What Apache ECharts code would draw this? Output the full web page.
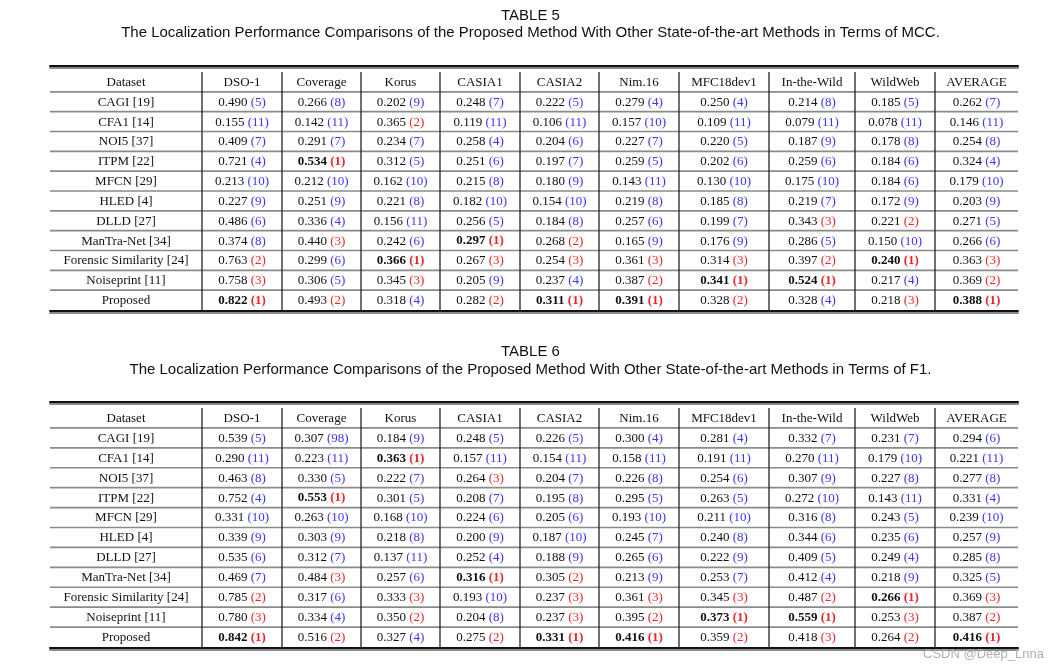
<!DOCTYPE html>
<html>
<head>
<meta charset="utf-8">
<title>MCC / F1 tables</title>
<script src="https://cdn.jsdelivr.net/npm/echarts@6/dist/echarts.min.js"></script>
<style>
  html, body { margin: 0; padding: 0; background: #fff; }
  #main { width: 1061px; height: 668px; }
</style>
</head>
<body>
<div id="main"></div>
<script>
// ---- data ----
const datasets = ['DSO-1', 'Coverage', 'Korus', 'CASIA1', 'CASIA2', 'Nim.16', 'MFC18dev1', 'In-the-Wild', 'WildWeb', 'AVERAGE'];
const methods = ['CAGI [19]', 'CFA1 [14]', 'NOI5 [37]', 'ITPM [22]', 'MFCN [29]', 'HLED [4]', 'DLLD [27]',
  'ManTra-Net [34]', 'Forensic Similarity [24]', 'Noiseprint [11]', 'Proposed'];

const mccValues = [
  [0.490, 0.266, 0.202, 0.248, 0.222, 0.279, 0.250, 0.214, 0.185, 0.262],
  [0.155, 0.142, 0.365, 0.119, 0.106, 0.157, 0.109, 0.079, 0.078, 0.146],
  [0.409, 0.291, 0.234, 0.258, 0.204, 0.227, 0.220, 0.187, 0.178, 0.254],
  [0.721, 0.534, 0.312, 0.251, 0.197, 0.259, 0.202, 0.259, 0.184, 0.324],
  [0.213, 0.212, 0.162, 0.215, 0.180, 0.143, 0.130, 0.175, 0.184, 0.179],
  [0.227, 0.251, 0.221, 0.182, 0.154, 0.219, 0.185, 0.219, 0.172, 0.203],
  [0.486, 0.336, 0.156, 0.256, 0.184, 0.257, 0.199, 0.343, 0.221, 0.271],
  [0.374, 0.440, 0.242, 0.297, 0.268, 0.165, 0.176, 0.286, 0.150, 0.266],
  [0.763, 0.299, 0.366, 0.267, 0.254, 0.361, 0.314, 0.397, 0.240, 0.363],
  [0.758, 0.306, 0.345, 0.205, 0.237, 0.387, 0.341, 0.524, 0.217, 0.369],
  [0.822, 0.493, 0.318, 0.282, 0.311, 0.391, 0.328, 0.328, 0.218, 0.388]
];
const mccRanks = [
  [5, 8, 9, 7, 5, 4, 4, 8, 5, 7],
  [11, 11, 2, 11, 11, 10, 11, 11, 11, 11],
  [7, 7, 7, 4, 6, 7, 5, 9, 8, 8],
  [4, 1, 5, 6, 7, 5, 6, 6, 6, 4],
  [10, 10, 10, 8, 9, 11, 10, 10, 6, 10],
  [9, 9, 8, 10, 10, 8, 8, 7, 9, 9],
  [6, 4, 11, 5, 8, 6, 7, 3, 2, 5],
  [8, 3, 6, 1, 2, 9, 9, 5, 10, 6],
  [2, 6, 1, 3, 3, 3, 3, 2, 1, 3],
  [3, 5, 3, 9, 4, 2, 1, 1, 4, 2],
  [1, 2, 4, 2, 1, 1, 2, 4, 3, 1]
];

const f1Values = [
  [0.539, 0.307, 0.184, 0.248, 0.226, 0.300, 0.281, 0.332, 0.231, 0.294],
  [0.290, 0.223, 0.363, 0.157, 0.154, 0.158, 0.191, 0.270, 0.179, 0.221],
  [0.463, 0.330, 0.222, 0.264, 0.204, 0.226, 0.254, 0.307, 0.227, 0.277],
  [0.752, 0.553, 0.301, 0.208, 0.195, 0.295, 0.263, 0.272, 0.143, 0.331],
  [0.331, 0.263, 0.168, 0.224, 0.205, 0.193, 0.211, 0.316, 0.243, 0.239],
  [0.339, 0.303, 0.218, 0.200, 0.187, 0.245, 0.240, 0.344, 0.235, 0.257],
  [0.535, 0.312, 0.137, 0.252, 0.188, 0.265, 0.222, 0.409, 0.249, 0.285],
  [0.469, 0.484, 0.257, 0.316, 0.305, 0.213, 0.253, 0.412, 0.218, 0.325],
  [0.785, 0.317, 0.333, 0.193, 0.237, 0.361, 0.345, 0.487, 0.266, 0.369],
  [0.780, 0.334, 0.350, 0.204, 0.237, 0.395, 0.373, 0.559, 0.253, 0.387],
  [0.842, 0.516, 0.327, 0.275, 0.331, 0.416, 0.359, 0.418, 0.264, 0.416]
];
const f1Ranks = [
  [5, 98, 9, 5, 5, 4, 4, 7, 7, 6],
  [11, 11, 1, 11, 11, 11, 11, 11, 10, 11],
  [8, 5, 7, 3, 7, 8, 6, 9, 8, 8],
  [4, 1, 5, 7, 8, 5, 5, 10, 11, 4],
  [10, 10, 10, 6, 6, 10, 10, 8, 5, 10],
  [9, 9, 8, 9, 10, 7, 8, 6, 6, 9],
  [6, 7, 11, 4, 9, 6, 9, 5, 4, 8],
  [7, 3, 6, 1, 2, 9, 7, 4, 9, 5],
  [2, 6, 3, 10, 3, 3, 3, 2, 1, 3],
  [3, 4, 2, 8, 3, 2, 1, 1, 3, 2],
  [1, 2, 4, 2, 1, 1, 2, 3, 2, 1]
];

// ---- layout ----
// column edges measured from the table's left side (px on the value axis)
const colEdges = [0, 152, 232, 311, 390, 470, 549, 629, 719, 805, 885, 968];
const tableRows = ['Dataset'].concat(methods);
const serif = '"Liberation Serif", "DejaVu Serif", serif';
const sans = '"Liberation Sans", Arial, sans-serif';

function cellData() {
  const out = [];
  for (let r = 0; r < tableRows.length; r++) {
    for (let c = 0; c < colEdges.length - 1; c++) out.push([c, r]);
  }
  return out;
}

function cellText(values, ranks, c, r) {
  if (r === 0) return c === 0 ? 'Dataset' : datasets[c - 1];
  if (c === 0) return methods[r - 1];
  const v = values[r - 1][c - 1].toFixed(3);
  const k = ranks[r - 1][c - 1];
  const col = k <= 3 ? 'red' : 'blue';
  if (k === 1) return '{vb|' + v + '} {' + col + 'b|(' + k + ')}';
  return '{v|' + v + '} {' + col + '|(' + k + ')}';
}

// zrender text styles use fill, not color
const rich = {
  v: { fontFamily: serif, fontSize: 13, fill: '#111' },
  vb: { fontFamily: serif, fontSize: 13, fill: '#111', fontWeight: 'bold' },
  red: { fontFamily: serif, fontSize: 13, fill: '#e8262b' },
  redb: { fontFamily: serif, fontSize: 13, fill: '#e8262b', fontWeight: 'bold' },
  blue: { fontFamily: serif, fontSize: 13, fill: '#3838ee' },
  blueb: { fontFamily: serif, fontSize: 13, fill: '#3838ee', fontWeight: 'bold' }
};

function makeRender(values, ranks) {
  return function (params, api) {
    const c = api.value(0), r = api.value(1);
    const a = api.coord([colEdges[c], r]);
    const b = api.coord([colEdges[c + 1], r]);
    const h = api.size([0, 1])[1];
    const top = a[1] - h / 2, bottom = a[1] + h / 2;
    const children = [];
    if (r < tableRows.length - 1) {
      children.push({
        type: 'line',
        shape: { x1: a[0], y1: bottom, x2: b[0], y2: bottom },
        style: { stroke: '#8a8a8a', lineWidth: 1.6 }
      });
    }
    if (c > 0) {
      children.push({
        type: 'line',
        shape: { x1: a[0], y1: top, x2: a[0], y2: bottom },
        style: { stroke: '#111', lineWidth: 1.2 }
      });
    }
    children.push({
      type: 'text',
      style: {
        text: cellText(values, ranks, c, r),
        x: (a[0] + b[0]) / 2,
        y: a[1] + 0.5,
        align: 'center',
        verticalAlign: 'middle',
        fontFamily: serif,
        fontSize: 13,
        fill: '#111',
        rich: rich
      }
    });
    return { type: 'group', children: children };
  };
}

function ruleAxis(gridIndex, position, offset) {
  return {
    type: 'value', gridIndex: gridIndex, position: position, offset: offset,
    min: 0, max: colEdges[colEdges.length - 1],
    axisLine: { show: true, onZero: false,
      lineStyle: { color: '#111', width: 2, shadowColor: '#8a8a8a', shadowOffsetY: 2, shadowBlur: 0 } },
    axisTick: { show: false }, axisLabel: { show: false }, splitLine: { show: false }
  };
}

function rowAxis(gridIndex) {
  return {
    type: 'category', gridIndex: gridIndex, data: tableRows, inverse: true,
    axisLine: { show: false }, axisTick: { show: false }, axisLabel: { show: false }, splitLine: { show: false }
  };
}

const titleFont = { fontFamily: sans, fontSize: 15, fontWeight: 'normal', color: '#111' };

const chart = echarts.init(document.getElementById('main'));
chart.setOption({
  animation: false,
  title: [
    { text: 'TABLE 5', left: 'center', top: 3, textStyle: titleFont },
    { text: 'The Localization Performance Comparisons of the Proposed Method With Other State-of-the-art Methods in Terms of MCC.', left: 'center', top: 20, textStyle: titleFont },
    { text: 'TABLE 6', left: 'center', top: 339, textStyle: titleFont },
    { text: 'The Localization Performance Comparisons of the Proposed Method With Other State-of-the-art Methods in Terms of F1.', left: 'center', top: 357, textStyle: titleFont },
    { text: 'CSDN @Deep_Lnna', left: 918, top: 643, textStyle: { fontFamily: sans, fontSize: 13, fontWeight: 'normal', color: '#b0b0b0' } }
  ],
  grid: [
    { left: 50, right: 43, top: 72, height: 238 },
    { left: 50, right: 43, top: 408, height: 239 }
  ],
  xAxis: [
    ruleAxis(0, 'top', 6), ruleAxis(0, 'bottom', 1),
    ruleAxis(1, 'top', 6), ruleAxis(1, 'bottom', 1)
  ],
  yAxis: [rowAxis(0), rowAxis(1)],
  series: [
    { type: 'custom', name: 'MCC', xAxisIndex: 0, yAxisIndex: 0, silent: true, clip: false,
      data: cellData(), renderItem: makeRender(mccValues, mccRanks) },
    { type: 'custom', name: 'F1', xAxisIndex: 2, yAxisIndex: 1, silent: true, clip: false,
      data: cellData(), renderItem: makeRender(f1Values, f1Ranks) }
  ]
});
</script>
</body>
</html>
